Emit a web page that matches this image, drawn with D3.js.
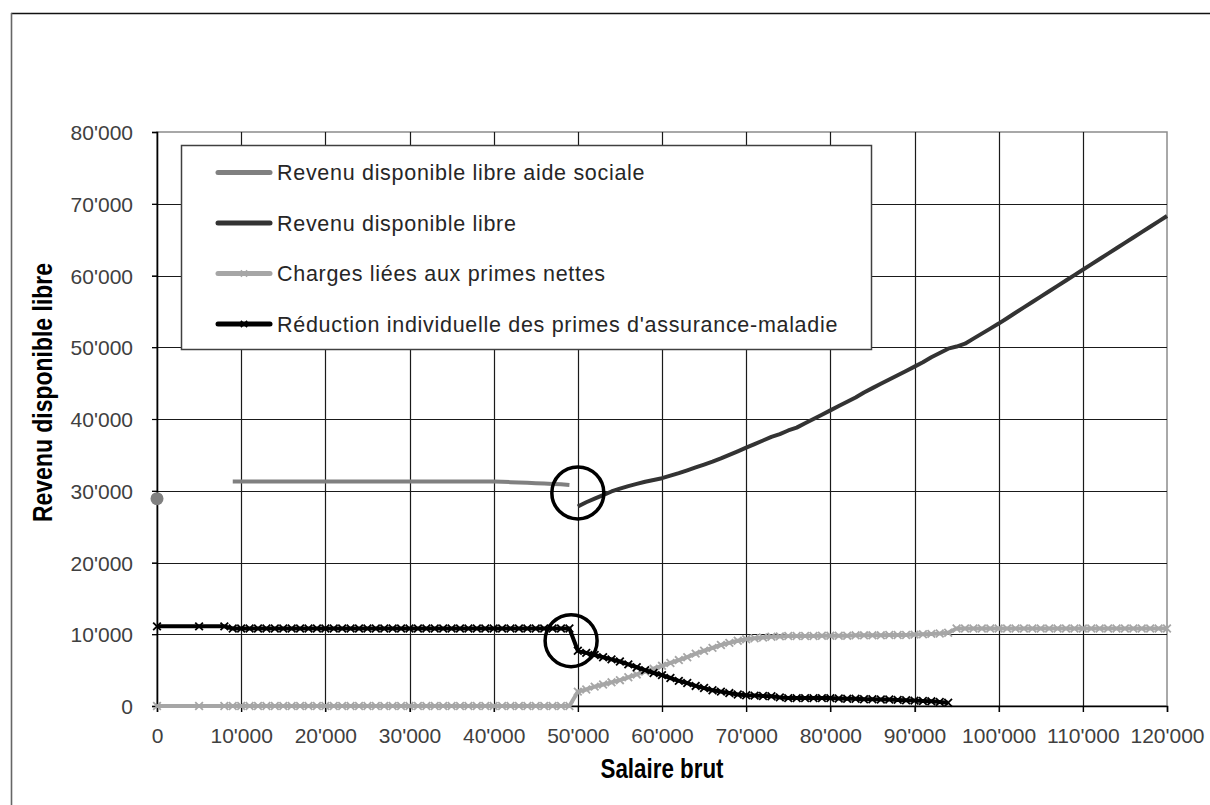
<!DOCTYPE html>
<html>
<head>
<meta charset="utf-8">
<script src="https://cdn.jsdelivr.net/npm/d3@7"></script>
<style>
	body { margin: 0; background: #fff; }
	svg { display: block; }
</style>
</head>
<body>
<div id="chart"></div>
<script>
// salaire brut (axe x)
var salaire = [0, 5000, 8000,
	9000, 10000, 11000, 12000, 13000, 14000, 15000, 16000, 17000, 18000, 19000,
	20000, 21000, 22000, 23000, 24000, 25000, 26000, 27000, 28000, 29000,
	30000, 31000, 32000, 33000, 34000, 35000, 36000, 37000, 38000, 39000,
	40000, 41000, 42000, 43000, 44000, 45000, 46000, 47000, 48000, 49000,
	50000, 51000, 52000, 53000, 54000, 55000, 56000, 57000, 58000, 59000,
	60000, 61000, 62000, 63000, 64000, 65000, 66000, 67000, 68000, 69000,
	70000, 71000, 72000, 73000, 74000, 75000, 76000, 77000, 78000, 79000,
	80000, 81000, 82000, 83000, 84000, 85000, 86000, 87000, 88000, 89000,
	90000, 91000, 92000, 93000, 94000, 95000, 96000, 97000, 98000, 99000,
	100000, 101000, 102000, 103000, 104000, 105000, 106000, 107000, 108000, 109000,
	110000, 111000, 112000, 113000, 114000, 115000, 116000, 117000, 118000, 119000,
	120000];

// Revenu disponible libre aide sociale (from 0)
var aideSociale = [28900, null, null,
	31300, 31300, 31300, 31300, 31300, 31300, 31300, 31300, 31300, 31300, 31300,
	31300, 31300, 31300, 31300, 31300, 31300, 31300, 31300, 31300, 31300,
	31300, 31300, 31300, 31300, 31300, 31300, 31300, 31300, 31300, 31300,
	31300, 31250, 31200, 31150, 31100, 31050, 31000, 30950, 30900, 30800];

// Revenu disponible libre (from 50'000)
var revenuLibre = [27800, 28400, 28900, 29400, 29900, 30300, 30650, 30950, 31250, 31500,
	31750, 32100, 32450, 32850, 33250, 33650, 34050, 34500, 35000, 35500,
	36000, 36500, 37000, 37500, 37900, 38400, 38800, 39400, 40000, 40600,
	41200, 41800, 42400, 43000, 43700, 44300, 44900, 45500, 46100, 46700,
	47300, 47900, 48600, 49200, 49800, 50100, 50500, 51200, 51900, 52600,
	53300, 54050, 54800, 55550, 56300, 57050, 57800, 58550, 59300, 60050,
	60800, 61550, 62300, 63050, 63800, 64550, 65300, 66050, 66800, 67550,
	68300];

// Charges liées aux primes nettes (from 0)
var charges = [0, 0, 0,
	0, 0, 0, 0, 0, 0, 0, 0, 0, 0, 0,
	0, 0, 0, 0, 0, 0, 0, 0, 0, 0,
	0, 0, 0, 0, 0, 0, 0, 0, 0, 0,
	0, 0, 0, 0, 0, 0, 0, 0, 0, 0,
	2000, 2300, 2700, 3000, 3300, 3600, 4000, 4400, 4800, 5200,
	5600, 6000, 6400, 6800, 7300, 7700, 8100, 8500, 8800, 9100,
	9300, 9450, 9550, 9650, 9700, 9750, 9750, 9750, 9750, 9800,
	9800, 9800, 9800, 9850, 9850, 9850, 9850, 9900, 9900, 9900,
	9950, 10000, 10050, 10100, 10200, 10800, 10800, 10800, 10800, 10800,
	10800, 10800, 10800, 10800, 10800, 10800, 10800, 10800, 10800, 10800,
	10800, 10800, 10800, 10800, 10800, 10800, 10800, 10800, 10800, 10800,
	10800];

// Réduction individuelle des primes d'assurance-maladie (from 0)
var reduction = [11100, 11100, 11100,
	10800, 10800, 10800, 10800, 10800, 10800, 10800, 10800, 10800, 10800, 10800,
	10800, 10800, 10800, 10800, 10800, 10800, 10800, 10800, 10800, 10800,
	10800, 10800, 10800, 10800, 10800, 10800, 10800, 10800, 10800, 10800,
	10800, 10800, 10800, 10800, 10800, 10800, 10800, 10800, 10800, 10800,
	7700, 7400, 7100, 6800, 6500, 6200, 5800, 5400, 5000, 4600,
	4300, 3900, 3500, 3200, 2800, 2500, 2200, 2000, 1800, 1600,
	1500, 1450, 1400, 1350, 1200, 1100, 1100, 1100, 1100, 1100,
	1100, 1050, 1000, 1000, 950, 950, 900, 900, 850, 800,
	750, 700, 650, 550, 450];

var noms = ['Revenu disponible libre aide sociale', 'Revenu disponible libre',
	'Charges liées aux primes nettes', "Réduction individuelle des primes d'assurance-maladie"];
var debuts = [0, 50000, 0, 0];
var xTicks = [0, 10000, 20000, 30000, 40000, 50000, 60000, 70000, 80000, 90000, 100000, 110000, 120000];
var yTicks = [0, 10000, 20000, 30000, 40000, 50000, 60000, 70000, 80000];
// annotation circles (salaire, revenu)
var cercles = [[50000, 29700], [49200, 9100]];

var w = 1210;
var h = 805;
var margin = {left: 157, right: 43, top: 132, bottom: 99};
var couleurs = ['#808080', '#333333', '#a6a6a6', '#000000'];
var marqueurs = [false, false, true, true];

var fmt = d3.formatLocale({decimal: '.', thousands: "'", grouping: [3], currency: ['', '']}).format(',');

var xScale = d3.scaleLinear()
	.domain([0, 120000])
	.range([margin.left, w - margin.right]);
var yScale = d3.scaleLinear()
	.domain([0, 80000])
	.range([h - margin.bottom, margin.top]);

function serie(valeurs, debut) {
	var i0 = salaire.indexOf(debut);
	return valeurs.map(function (v, i) { return {x: salaire[i0 + i], v: v}; });
}
var series = [aideSociale, revenuLibre, charges, reduction].map(function (vals, i) {
	return serie(vals, debuts[i]);
});

var svg = d3.select('#chart')
	.append('svg')
	.attr('width', w)
	.attr('height', h)
	.style('font-family', '"Liberation Sans", Arial, sans-serif');

// outer frame
svg.append('line')
	.attr('x1', 11).attr('x2', w).attr('y1', 13.5).attr('y2', 13.5)
	.attr('stroke', '#111').attr('stroke-width', 1.6);
svg.append('line')
	.attr('x1', 11.5).attr('x2', 11.5).attr('y1', 13).attr('y2', h)
	.attr('stroke', '#666').attr('stroke-width', 1.6);

var x0 = xScale(0), x1 = xScale(120000), y0 = yScale(0), y1 = yScale(80000);

// plot border
svg.append('rect')
	.attr('x', x0).attr('y', y1)
	.attr('width', x1 - x0).attr('height', y0 - y1)
	.attr('fill', '#fff')
	.attr('stroke', '#8c8c8c').attr('stroke-width', 1.5);

// grid
svg.append('g').selectAll('line')
	.data(xTicks.slice(1, -1))
	.enter()
	.append('line')
	.attr('x1', function (d) { return Math.round(xScale(d)) + 0.5; })
	.attr('x2', function (d) { return Math.round(xScale(d)) + 0.5; })
	.attr('y1', y1).attr('y2', y0 + 6)
	.attr('stroke', '#1a1a1a').attr('stroke-width', 1.2);
svg.append('g').selectAll('line')
	.data(yTicks.slice(1, -1))
	.enter()
	.append('line')
	.attr('y1', function (d) { return Math.round(yScale(d)) + 0.5; })
	.attr('y2', function (d) { return Math.round(yScale(d)) + 0.5; })
	.attr('x1', x0 - 5).attr('x2', x1)
	.attr('stroke', '#1a1a1a').attr('stroke-width', 1.2);

// axes
var xAxis = d3.axisBottom(xScale).tickValues(xTicks).tickFormat(fmt).tickSize(6).tickPadding(16);
var yAxis = d3.axisLeft(yScale).tickValues(yTicks).tickFormat(fmt).tickSize(5).tickPadding(19);
var gx = svg.append('g').attr('transform', 'translate(0,' + y0 + ')').call(xAxis);
var gy = svg.append('g').attr('transform', 'translate(' + x0 + ',0)').call(yAxis);
[gx, gy].forEach(function (g) {
	g.select('.domain').attr('stroke', '#000').attr('stroke-width', 1.6);
	g.selectAll('.tick line').attr('stroke', '#000').attr('stroke-width', 1.2);
	g.selectAll('.tick text')
		.attr('font-size', '21px')
		.attr('font-family', '"Liberation Sans", Arial, sans-serif')
		.attr('fill', '#404040');
});
gy.selectAll('.tick text').attr('dy', '0.36em');

// lines
var line = d3.line()
	.defined(function (d) { return d.v != null; })
	.x(function (d) { return xScale(d.x); })
	.y(function (d) { return yScale(d.v); });

var ordre = [2, 3, 0, 1];
ordre.forEach(function (k) {
	var data = series[k];
	svg.append('path')
		.datum(data)
		.attr('fill', 'none')
		.attr('stroke', couleurs[k])
		.attr('stroke-width', 4)
		.attr('stroke-linejoin', 'round')
		.attr('d', line);
	if (marqueurs[k]) {
		svg.append('g').selectAll('path')
			.data(data.filter(function (d) { return d.v != null; }))
			.enter()
			.append('path')
			.attr('transform', function (d) { return 'translate(' + xScale(d.x) + ',' + yScale(d.v) + ')'; })
			.attr('d', d3.symbol().type(d3.symbolTimes).size(40))
			.attr('fill', 'none')
			.attr('stroke', couleurs[k])
			.attr('stroke-width', 1.8);
	}
	// isolated points get a round marker
	var isoles = data.filter(function (d, i) {
		return d.v != null && (i === 0 || data[i - 1].v == null) && (i === data.length - 1 || data[i + 1].v == null);
	});
	svg.append('g').selectAll('circle')
		.data(isoles)
		.enter()
		.append('circle')
		.attr('cx', function (d) { return xScale(d.x); })
		.attr('cy', function (d) { return yScale(d.v); })
		.attr('r', 6.5)
		.attr('fill', couleurs[k]);
});

// annotation circles
svg.append('g').selectAll('circle')
	.data(cercles)
	.enter()
	.append('circle')
	.attr('cx', function (d) { return xScale(d[0]); })
	.attr('cy', function (d) { return yScale(d[1]); })
	.attr('r', 26)
	.attr('fill', 'none')
	.attr('stroke', '#000')
	.attr('stroke-width', 3.5);

// legend
var leg = svg.append('g').attr('transform', 'translate(181,145)');
leg.append('rect')
	.attr('x', 0.5).attr('y', 0.5)
	.attr('width', 690).attr('height', 204)
	.attr('fill', '#fff')
	.attr('stroke', '#404040').attr('stroke-width', 1.5);
var items = leg.selectAll('g.item')
	.data(noms)
	.enter()
	.append('g')
	.attr('class', 'item')
	.attr('transform', function (d, i) { return 'translate(0,' + (27.5 + i * 50.5) + ')'; });
items.append('line')
	.attr('x1', 37).attr('x2', 89)
	.attr('stroke', function (d, i) { return couleurs[i]; })
	.attr('stroke-width', 5)
	.attr('stroke-linecap', 'round');
items.filter(function (d, i) { return marqueurs[i]; })
	.append('path')
	.attr('transform', 'translate(63,0)')
	.attr('d', d3.symbol().type(d3.symbolTimes).size(28))
	.attr('fill', 'none')
	.attr('stroke', function (d) { return couleurs[noms.indexOf(d)]; })
	.attr('stroke-width', 1.6);
items.append('text')
	.attr('x', 96)
	.attr('y', 7.5)
	.attr('font-size', '21.5px')
	.attr('letter-spacing', '0.7px')
	.attr('fill', '#262626')
	.text(function (d) { return d; });

// axis titles
svg.append('text')
	.attr('x', (x0 + x1) / 2)
	.attr('y', 778)
	.attr('text-anchor', 'middle')
	.attr('font-size', '27px')
	.attr('font-weight', 'bold')
	.attr('textLength', 123)
	.attr('lengthAdjust', 'spacingAndGlyphs')
	.attr('fill', '#000')
	.text('Salaire brut');
svg.append('text')
	.attr('transform', 'translate(52,392.5) rotate(-90)')
	.attr('text-anchor', 'middle')
	.attr('font-size', '27px')
	.attr('font-weight', 'bold')
	.attr('textLength', 259)
	.attr('lengthAdjust', 'spacingAndGlyphs')
	.attr('fill', '#000')
	.text('Revenu disponible libre');
</script>
</body>
</html>
